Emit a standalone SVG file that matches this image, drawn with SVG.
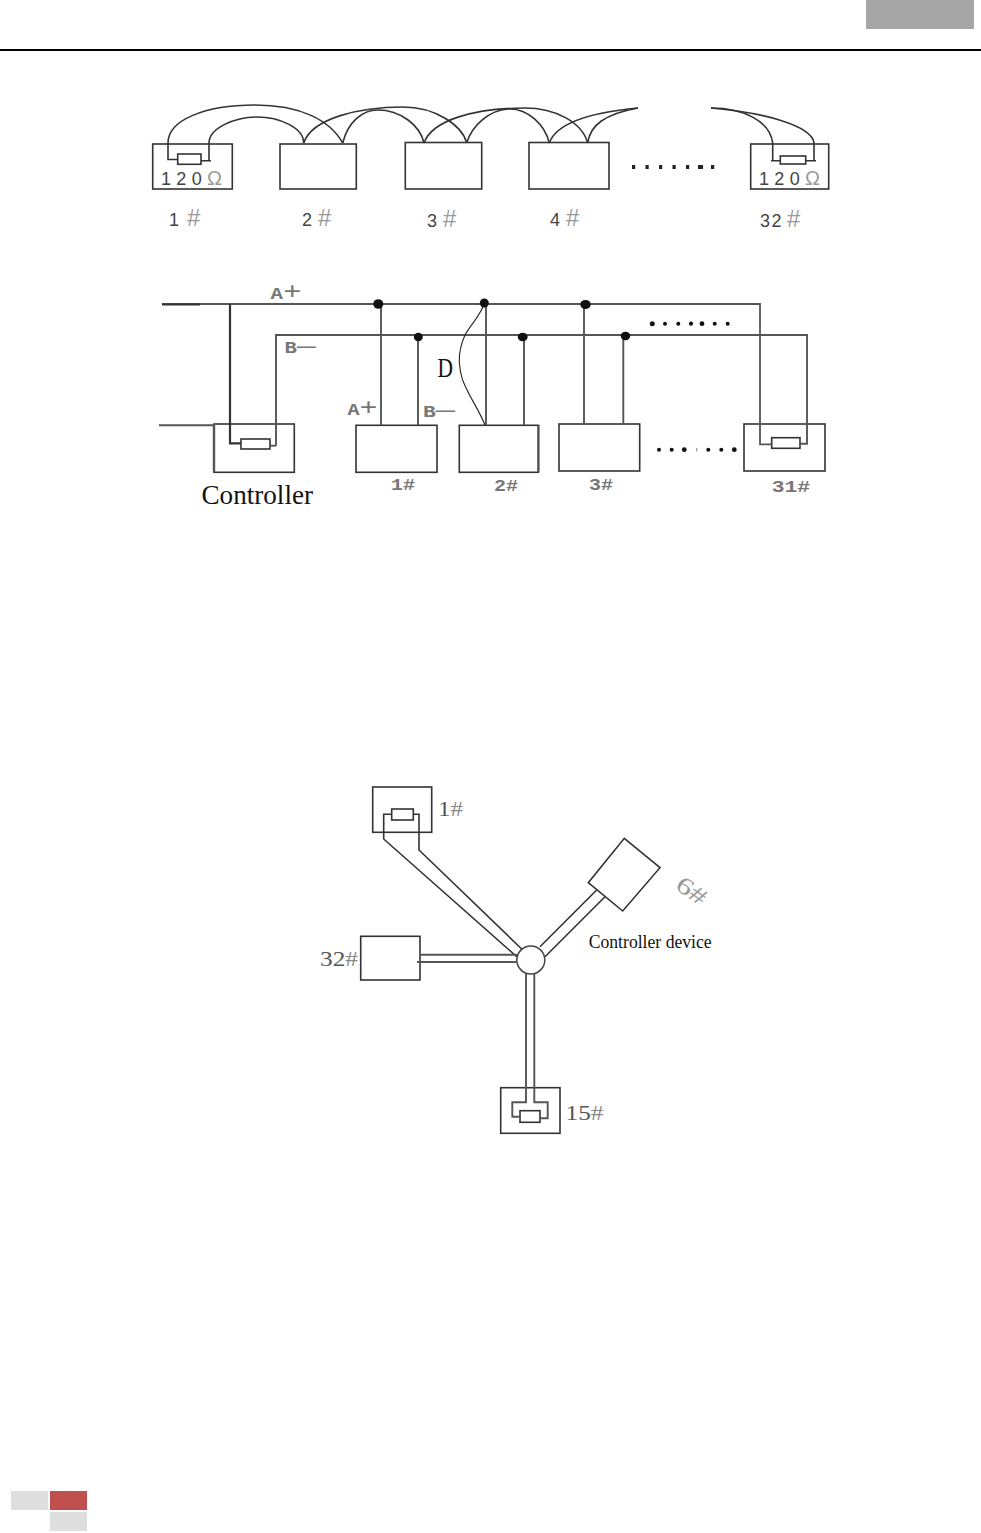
<svg xmlns="http://www.w3.org/2000/svg" width="981" height="1533" viewBox="0 0 981 1533">
<style>
.box{fill:#fff;stroke:#333;stroke-width:1.6}
.res{fill:#fff;stroke:#333;stroke-width:1.6}
.w{fill:none;stroke:#333;stroke-width:1.6}
.g{fill:none;stroke:#555;stroke-width:1.9}
.k{fill:none;stroke:#222;stroke-width:1.1}
.dot{fill:#111}
.sq{fill:#222}
text{font-family:"Liberation Sans",Arial,sans-serif}
.n{font-size:18px;fill:#444}
.h{fill:#999;font-size:24px}
.ohm{font-size:18px;fill:#444}
.o{fill:#999;font-size:20px}
.m{font-family:"Liberation Mono","DejaVu Sans Mono",monospace;font-weight:bold;fill:#777;font-size:16px}
.p{fill:#777;font-size:24px;font-weight:normal}
.s{font-family:"Liberation Serif","Times New Roman",serif;fill:#111}
.t{font-family:"Liberation Serif","Times New Roman",serif;fill:#555;font-size:21px}
.hd{fill:#dedede}
</style>
<g id="page-furniture">
<rect x="866" y="0" width="108" height="29" fill="#a6a6a6"/>
<rect x="0" y="49" width="981" height="2" fill="#000"/>
<rect class="hd" x="11" y="1491" width="37" height="19"/>
<rect x="50" y="1491" width="37" height="19" fill="#c0504d"/>
<rect class="hd" x="50" y="1512" width="37" height="19"/>
</g>

<g id="n1-top"><rect class="box" x="152.7" y="144" width="79.6" height="45"/><rect class="res" x="177.7" y="154" width="23.3" height="10.3"/><text class="ohm" x="161" y="185" textLength="61" lengthAdjust="spacing">120<tspan class="o">Ω</tspan></text></g>
<g id="n2-top"><rect class="box" x="280" y="144" width="76.3" height="45"/></g>
<g id="n3-top"><rect class="box" x="405.3" y="142.5" width="76.4" height="46.5"/></g>
<g id="n4-top"><rect class="box" x="529" y="142.5" width="80" height="46.5"/></g>
<g id="n32-top"><rect class="box" x="750.7" y="144" width="78" height="45"/><rect class="res" x="780.3" y="156" width="25.4" height="8"/><text class="ohm" x="759" y="185" textLength="61" lengthAdjust="spacing">120<tspan class="o">Ω</tspan></text></g>

<g id="connectors-top">
<path class="w" d="M168 143C168 120 205 105 255 105C300 105 330 120 342.7 143"/>
<path class="w" d="M209 143C209 128 235 117 257 117C280 117 303.7 128 303.7 143"/>
<path class="w" d="M303.7 143C312 118 360 107 403 107C435 107 462 125 466.7 143"/>
<path class="w" d="M342.7 143C348 122 362 110 378 110C400 110 420 125 424 143"/>
<path class="w" d="M424 143C432 120 475 108 525 108C555 108 582 122 587.7 143"/>
<path class="w" d="M466.7 143C472 125 490 110 508 109C528 108 545 125 549.3 143"/>
<path class="w" d="M549.3 143C556 124 585 113 638 108"/>
<path class="w" d="M587.7 143C590 125 605 114 638 108"/>
<path class="w" d="M711 108C745 108 770 122 772.7 143"/>
<path class="w" d="M711 108C760 112 812 125 814 143"/>
<path class="w" d="M168 143V159.5H177.7M201 160.7H211M209 143V160.7"/>
<path class="w" d="M771 160.7H780.3M772.7 143V160.7M805.7 160.7H816M814 143V160.7"/>
</g>
<g id="dots-top" class="sq">
<rect x="632" y="165" width="3.2" height="4"/><rect x="645.5" y="165" width="3.2" height="4"/><rect x="659" y="165" width="3.2" height="4"/><rect x="672.5" y="165" width="3.2" height="4"/><rect x="686" y="165" width="3.2" height="4"/><rect x="698" y="165" width="5" height="4"/><rect x="711" y="165" width="3.2" height="4"/>
</g>
<g id="labels-top">
<text class="n" x="169" y="226">1<tspan class="h" dx="8">#</tspan></text>
<text class="n" x="302" y="226">2<tspan class="h" dx="6">#</tspan></text>
<text class="n" x="427" y="227.3">3<tspan class="h" dx="6">#</tspan></text>
<text class="n" x="550" y="226">4<tspan class="h" dx="6">#</tspan></text>
<text class="n" x="760" y="227.3" letter-spacing="1.5">32<tspan class="h" dx="4">#</tspan></text>
</g>

<g id="controller"><rect class="box" x="214" y="424" width="80.3" height="48.3" stroke="#555"/><path class="g" d="M214 424V472" style="stroke-width:2.4"/><rect class="res" x="241" y="439" width="29" height="10"/><text class="s" x="201.5" y="503.7" font-size="27" textLength="111.5" lengthAdjust="spacingAndGlyphs">Controller</text></g>
<g id="n1-mid"><rect class="box" x="356" y="425.3" width="81" height="47"/><text class="m" x="391" y="490" textLength="24" lengthAdjust="spacingAndGlyphs">1#</text></g>
<g id="n2-mid"><rect class="box" x="459.3" y="425.3" width="79" height="47"/><path class="g" d="M538.5 425V472.5" style="stroke-width:2.2"/><text class="m" x="494" y="491" textLength="24" lengthAdjust="spacingAndGlyphs">2#</text></g>
<g id="n3-mid"><rect class="box" x="559" y="424" width="80.7" height="47"/><text class="m" x="589" y="490" textLength="24" lengthAdjust="spacingAndGlyphs">3#</text></g>
<g id="n31-mid"><rect class="box" x="744" y="424" width="81" height="47"/><rect class="res" x="771.7" y="437.7" width="28.3" height="10.6"/><text class="m" x="771.7" y="492" font-size="17" textLength="38.5" lengthAdjust="spacingAndGlyphs">31#</text></g>

<g id="connectors-mid">
<path class="g" d="M162 304H760V444.3H771.7" style="stroke-width:1.8"/>
<path d="M162 304.5H200" fill="none" stroke="#333" stroke-width="2.2"/>
<path class="g" d="M276 445.7V335H807V443.7H800"/>
<path class="g" d="M159 425.3H214"/>
<path d="M230 304V443.3H241" fill="none" stroke="#333" stroke-width="2.2"/>
<path class="g" d="M270 445.7H276"/>
<path class="g" d="M381 304V425.3M418 335V425.3M486 304V425.3M524 335V425.3M584 304V424M623.3 335V424"/>
<path class="k" d="M483 306.7C478 318 470 326 465 335C461 344 459 352 459.3 361.7C460 370 461 376 463.3 381.7C470 398 479 410 485 425"/>
<ellipse class="dot" cx="378.3" cy="304" rx="5" ry="4.8"/>
<ellipse class="dot" cx="484.3" cy="303" rx="4.5" ry="4.5"/>
<ellipse class="dot" cx="418.3" cy="337" rx="4.5" ry="4.2"/>
<ellipse class="dot" cx="522.7" cy="337" rx="5" ry="4.2"/>
<ellipse class="dot" cx="585.5" cy="304.5" rx="5.2" ry="4.6"/>
<ellipse class="dot" cx="625.5" cy="336" rx="4.8" ry="4.2"/>
</g>
<g id="dots-mid" class="dot">
<circle cx="652.3" cy="323.7" r="2.5"/><circle cx="665" cy="323.7" r="2"/><circle cx="678.3" cy="323.7" r="2"/><circle cx="691" cy="323.7" r="2.1"/><circle cx="702" cy="323.7" r="2.4"/><circle cx="714.7" cy="323.7" r="2"/><circle cx="727.7" cy="323.7" r="2"/>
<circle cx="659" cy="449.7" r="2"/><circle cx="671.7" cy="449.7" r="2"/><circle cx="684.3" cy="449.7" r="2.4"/><rect x="696.2" y="448" width="1" height="3.5" fill="#888"/><circle cx="708.3" cy="449.7" r="2"/><circle cx="721.3" cy="449.7" r="2"/><circle cx="734.3" cy="449.7" r="2.4"/>
</g>
<g id="labels-mid">
<text class="m" x="270.5" y="298.5" textLength="31" lengthAdjust="spacingAndGlyphs">A<tspan class="p">+</tspan></text>
<text class="m" x="284.5" y="352.5" textLength="31" lengthAdjust="spacingAndGlyphs">B<tspan class="p">—</tspan></text>
<text class="m" x="347.5" y="415" textLength="30" lengthAdjust="spacingAndGlyphs">A<tspan class="p">+</tspan></text>
<text class="m" x="423" y="417" textLength="32" lengthAdjust="spacingAndGlyphs">B<tspan class="p">—</tspan></text>
<text class="s" x="437.5" y="376.5" font-size="27" textLength="15.5" lengthAdjust="spacingAndGlyphs">D</text>
</g>

<g id="n1-star"><rect class="box" x="372.7" y="787" width="59" height="45.3" stroke="#555"/><rect class="res" x="391.7" y="809" width="21.6" height="11"/><text class="t" x="438" y="815.7" textLength="25" lengthAdjust="spacingAndGlyphs">1<tspan fill="#888">#</tspan></text></g>
<g id="n6-star"><path class="box" d="M624.3 838.3L660 867.7L622.7 911L588.3 882.7Z"/><text class="t" transform="translate(674 888) rotate(35)" font-size="24" style="fill:#999;font-size:24px" textLength="32" lengthAdjust="spacingAndGlyphs">6#</text></g>
<g id="n32-star"><rect class="box" x="360.7" y="936.3" width="59.3" height="43.7"/><text class="t" x="320" y="966" textLength="38" lengthAdjust="spacingAndGlyphs">32<tspan fill="#888">#</tspan></text></g>
<g id="n15-star"><rect class="box" x="500.7" y="1087.7" width="59.3" height="45.6"/><rect class="res" x="520" y="1110.7" width="20" height="11.6"/><text class="t" x="565.5" y="1120" textLength="38" lengthAdjust="spacingAndGlyphs">15<tspan fill="#888">#</tspan></text></g>
<g id="hub"><circle cx="530.8" cy="960" r="14" fill="#fff" stroke="#444" stroke-width="1.5"/></g>
<g id="connectors-star">
<path class="w" d="M391.7 814.3H383.7V839L516.7 956.7"/>
<path class="w" d="M413.3 814.3H419V850L521.7 949"/>
<path class="w" d="M596.7 890L540 946.7M605 896.7L545 956.7"/>
<path class="g" d="M420 954.7H517M417 962H517"/>
<path class="g" d="M526 973.5V1102.3H512.3V1116.7H520"/>
<path class="g" d="M534.3 973.5V1102.3H547.7V1118.3H540"/>
</g>
<g id="label-controller-device"><text class="s" x="588.7" y="947.7" font-size="18" textLength="123" lengthAdjust="spacingAndGlyphs">Controller device</text></g>
</svg>
